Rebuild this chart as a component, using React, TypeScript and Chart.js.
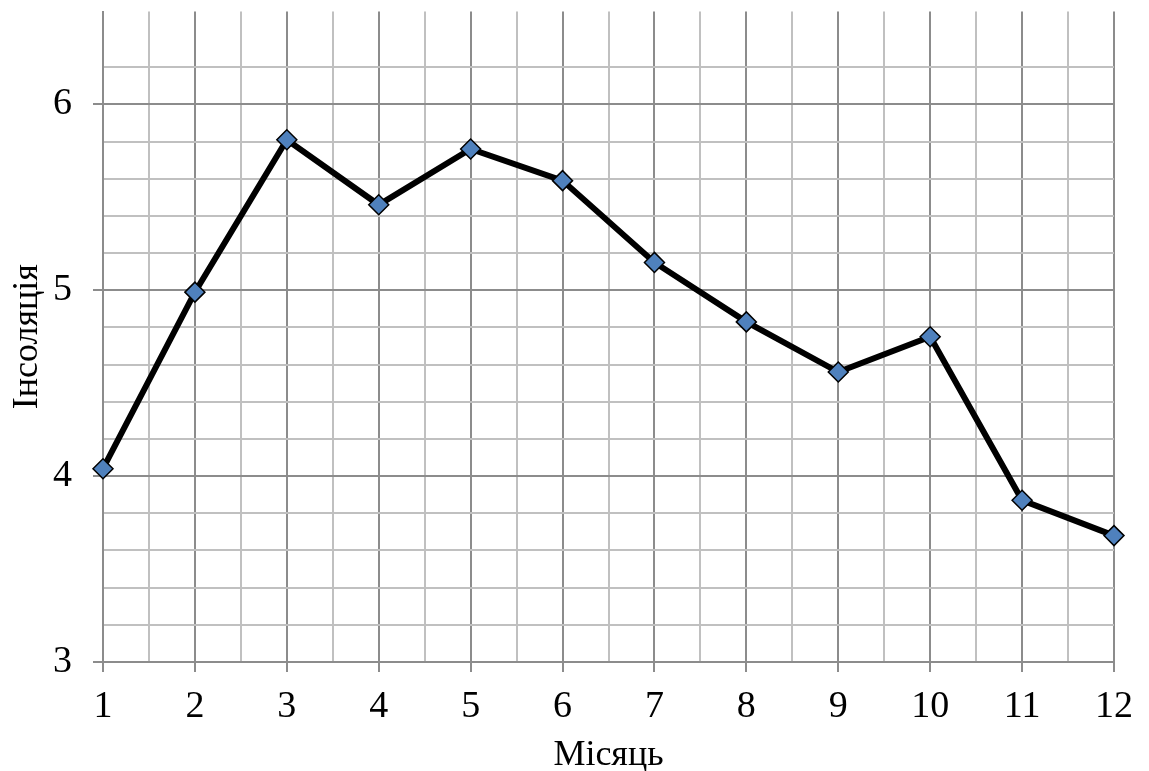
import React, { useEffect, useRef } from "react";
import { Chart, registerables } from "chart.js";

Chart.register(...registerables);

const months = [1, 2, 3, 4, 5, 6, 7, 8, 9, 10, 11, 12];
const insolation = [4.04, 4.99, 5.81, 5.46, 5.76, 5.59, 5.15, 4.83, 4.56, 4.75, 3.87, 3.68];
const xTitle = "Місяць";
const yTitle = "Інсоляція";

const FONT = "'Liberation Serif', 'Times New Roman', serif";
const isInt = (v: number) => Math.abs(v - Math.round(v)) < 1e-6;

export default function App() {
  const ref = useRef<HTMLCanvasElement | null>(null);
  useEffect(() => {
    if (!ref.current) return;
    const chart = new Chart(ref.current, {
      type: "line",
      data: {
        datasets: [
          {
            data: months.map((m, i) => ({ x: m, y: insolation[i] })),
            borderColor: "#000000",
            borderWidth: 6,
            pointStyle: "rectRot",
            pointRadius: 10,
            pointBackgroundColor: "#4F81BD",
            pointBorderColor: "#000000",
            pointBorderWidth: 1.5,
            tension: 0,
            clip: false as any,
          },
        ],
      },
      options: {
        animation: false,
        responsive: false,
        maintainAspectRatio: false,
        layout: { padding: { left: 0, top: 11, right: 35, bottom: 0 } },
        plugins: { legend: { display: false }, tooltip: { enabled: false } },
        scales: {
          x: {
            type: "linear",
            min: 1,
            max: 12,
            afterFit: (s: any) => {
              s.height = 109;
              s.paddingLeft = 0;
              s.paddingRight = 0;
            },
            ticks: {
              stepSize: 0.5,
              autoSkip: false,
              maxRotation: 0,
              padding: 12,
              color: "#000",
              font: { family: FONT, size: 38 },
              callback: (v: any) => (isInt(Number(v)) ? String(Math.round(Number(v))) : ""),
            },
            grid: {
              color: (c: any) => (isInt(c.tick.value) ? "#8c8c8c" : "#c0c0c0"),
              tickColor: (c: any) => (isInt(c.tick.value) ? "#8c8c8c" : "rgba(0,0,0,0)"),
              lineWidth: 2,
              tickLength: 10,
            },
            border: { color: "#8c8c8c", width: 2 },
            title: {
              display: true,
              text: xTitle,
              color: "#000",
              font: { family: FONT, size: 36 },
              padding: { top: 0, bottom: -6 },
            },
          },
          y: {
            type: "linear",
            min: 3,
            max: 6.5,
            afterFit: (s: any) => {
              s.width = 103;
              s.paddingTop = 0;
              s.paddingBottom = 0;
            },
            ticks: {
              stepSize: 0.2,
              autoSkip: false,
              padding: 21,
              color: "#000",
              font: { family: FONT, size: 38 },
              callback: (v: any) => (isInt(Number(v)) ? String(Math.round(Number(v))) : ""),
            },
            grid: {
              color: (c: any) =>
                c.tick.value > 6.45 ? "rgba(0,0,0,0)" : isInt(c.tick.value) ? "#8c8c8c" : "#c0c0c0",
              tickColor: (c: any) => (isInt(c.tick.value) ? "#8c8c8c" : "rgba(0,0,0,0)"),
              lineWidth: 2,
              tickLength: 10,
            },
            border: { color: "#8c8c8c", width: 2 },
            title: {
              display: true,
              text: yTitle,
              color: "#000",
              font: { family: FONT, size: 36 },
              padding: { top: 6, bottom: 0 },
            },
          },
        },
      },
    });
    return () => chart.destroy();
  }, []);
  return (
    <div style={{ position: "absolute", left: 0, top: 0, width: 1149, height: 771, background: "#fff" }}>
      <canvas ref={ref} width={1149} height={771} style={{ width: 1149, height: 771 }} />
    </div>
  );
}
